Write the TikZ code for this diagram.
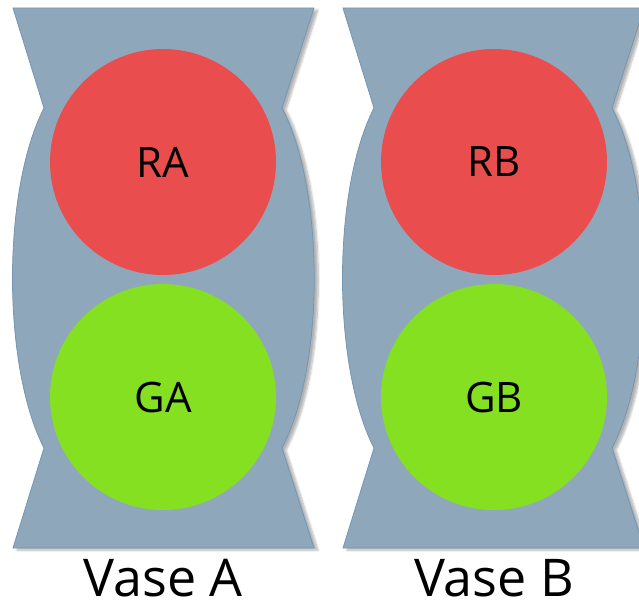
\documentclass[tikz,border=0pt]{standalone}
\usepackage{fontspec}
\setmainfont{Open Sans}
\usetikzlibrary{shadows.blur}
\definecolor{vasefill}{HTML}{8FA7BB}
\definecolor{vaseedge}{HTML}{7396B4}
\definecolor{ballred}{HTML}{EA4D4D}
\definecolor{ballgreen}{HTML}{86E022}
\tikzset{
  vase/.style={fill=vasefill, draw=vaseedge, line width=0.8pt, line join=round,
    blur shadow={shadow xshift=4pt, shadow yshift=-2pt, shadow blur steps=8, shadow opacity=30}},
  ball/.style={circle, minimum size=226pt, inner sep=0pt, draw=none,
    font=\fontsize{42}{46}\selectfont},
  redball/.style={ball, fill=ballred},
  greenball/.style={ball, fill=ballgreen},
  vaselabel/.style={anchor=base, inner sep=0pt, font=\fontsize{52}{58}\selectfont}
}
\begin{document}
\begin{tikzpicture}[x=1pt, y=-1pt]
\useasboundingbox (0,0) rectangle (639,602);
\clip (0,0) rectangle (639,602);
\foreach \dx in {0,330} {
  \begin{scope}[xshift=\dx pt]
    \path[vase] (13,8) -- (314,8) -- (282,108)
      .. controls (325,190) and (325,366) .. (282,448)
      -- (314,548) -- (13,548) -- (44,448)
      .. controls (2,366) and (2,190) .. (44,108) -- cycle;
  \end{scope}
}
\node[redball] (RA) at (163,162) {RA};
\node[greenball] (GA) at (163,397) {GA};
\node[redball] (RB) at (494,162) {RB};
\node[greenball] (GB) at (494,397) {GB};
\node[vaselabel] (LA) at (163,596) {Vase A};
\node[vaselabel] (LB) at (494,596) {Vase B};
\end{tikzpicture}
\end{document}
